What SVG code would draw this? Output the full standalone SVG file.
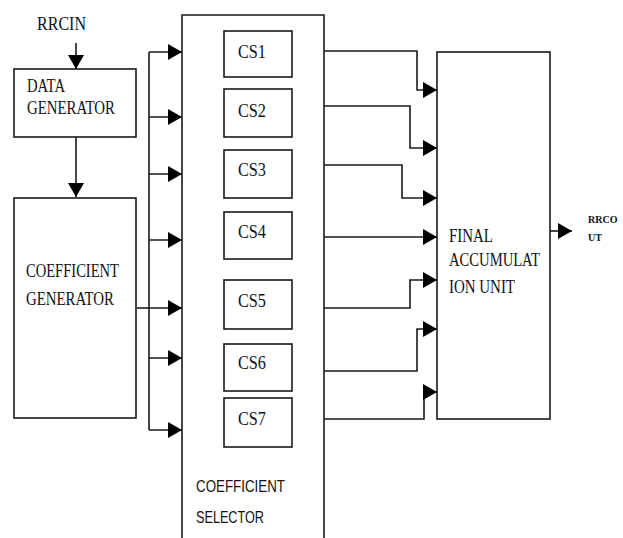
<svg xmlns="http://www.w3.org/2000/svg" width="623" height="538" viewBox="0 0 623 538">
<style>
.box{fill:#fff;stroke:#1a1a1a;stroke-width:1.6}
.ln{fill:none;stroke:#1a1a1a;stroke-width:1.6}
.arr{marker-end:url(#ah)}
.t{font-family:"Liberation Serif","Times New Roman",serif;font-size:18px;fill:#111}
.s{font-family:"Liberation Sans",Arial,sans-serif;font-size:17px;fill:#111}
.sm{font-family:"Liberation Serif","Times New Roman",serif;font-size:10px;font-weight:bold;fill:#111}
</style>
<defs>
<marker id="ah" markerUnits="userSpaceOnUse" markerWidth="16" markerHeight="18" refX="14" refY="8" orient="auto">
<path d="M0,0 L14,8 L0,16 z" fill="#000"/>
</marker>
</defs>
<rect width="623" height="538" fill="#fff"/>
<g id="connectors">
<path class="ln arr" d="M76,43 V69"/>
<path class="ln arr" d="M76,137 V197"/>
<path class="ln" d="M137,308 H149"/>
<path class="ln" d="M149,52 V430"/>
<path class="ln arr" d="M149,52 H182"/>
<path class="ln arr" d="M149,117 H182"/>
<path class="ln arr" d="M149,174 H182"/>
<path class="ln arr" d="M149,240 H182"/>
<path class="ln arr" d="M149,308 H182"/>
<path class="ln arr" d="M149,358 H182"/>
<path class="ln arr" d="M149,430 H182"/>
<path class="ln arr" d="M324,51 H417 V90 H437"/>
<path class="ln arr" d="M324,106 H410 V148 H437"/>
<path class="ln arr" d="M324,165 H402 V198 H437"/>
<path class="ln arr" d="M324,237 H437"/>
<path class="ln arr" d="M324,308 H410 V280 H437"/>
<path class="ln arr" d="M324,371 H417 V329 H437"/>
<path class="ln arr" d="M324,419 H424 V392 H437"/>
<path class="ln arr" d="M550,231 H572"/>
</g>
<g id="rrcin"><text class="t" x="37" y="30" textLength="49" lengthAdjust="spacingAndGlyphs">RRCIN</text></g>
<g id="data-generator">
<rect class="box" x="14" y="69" width="122" height="68"/>
<text class="t" x="27" y="92" textLength="38" lengthAdjust="spacingAndGlyphs">DATA</text>
<text class="t" x="27" y="114" textLength="88" lengthAdjust="spacingAndGlyphs">GENERATOR</text>
</g>
<g id="coefficient-generator">
<rect class="box" x="14" y="198" width="122" height="220"/>
<text class="t" x="26" y="277" textLength="93" lengthAdjust="spacingAndGlyphs">COEFFICIENT</text>
<text class="t" x="26" y="305" textLength="88" lengthAdjust="spacingAndGlyphs">GENERATOR</text>
</g>
<g id="coefficient-selector">
<path class="box" d="M182,540 V15 H324 V540"/>
<text class="s" x="196" y="492" textLength="89" lengthAdjust="spacingAndGlyphs">COEFFICIENT</text>
<text class="s" x="196" y="523" textLength="68" lengthAdjust="spacingAndGlyphs">SELECTOR</text>
</g>
<g id="cs1"><rect class="box" x="224" y="31" width="68" height="46"/><text class="t" x="238" y="58" textLength="28" lengthAdjust="spacingAndGlyphs">CS1</text></g>
<g id="cs2"><rect class="box" x="224" y="89" width="68" height="48"/><text class="t" x="238" y="117" textLength="28" lengthAdjust="spacingAndGlyphs">CS2</text></g>
<g id="cs3"><rect class="box" x="224" y="150" width="68" height="48"/><text class="t" x="238" y="176" textLength="28" lengthAdjust="spacingAndGlyphs">CS3</text></g>
<g id="cs4"><rect class="box" x="224" y="212" width="68" height="47"/><text class="t" x="238" y="238" textLength="28" lengthAdjust="spacingAndGlyphs">CS4</text></g>
<g id="cs5"><rect class="box" x="224" y="280" width="68" height="49"/><text class="t" x="238" y="307" textLength="28" lengthAdjust="spacingAndGlyphs">CS5</text></g>
<g id="cs6"><rect class="box" x="224" y="344" width="68" height="47"/><text class="t" x="238" y="369" textLength="28" lengthAdjust="spacingAndGlyphs">CS6</text></g>
<g id="cs7"><rect class="box" x="224" y="398" width="68" height="49"/><text class="t" x="238" y="425" textLength="28" lengthAdjust="spacingAndGlyphs">CS7</text></g>
<g id="final-accumulation-unit">
<rect class="box" x="437" y="52" width="113" height="367"/>
<text class="t" x="449" y="242" textLength="44" lengthAdjust="spacingAndGlyphs">FINAL</text>
<text class="t" x="449" y="266" textLength="91" lengthAdjust="spacingAndGlyphs">ACCUMULAT</text>
<text class="t" x="449" y="293" textLength="66" lengthAdjust="spacingAndGlyphs">ION UNIT</text>
</g>
<g id="rrcout">
<text class="sm" x="588" y="223">RRCO</text>
<text class="sm" x="588" y="241">UT</text>
</g>
</svg>
